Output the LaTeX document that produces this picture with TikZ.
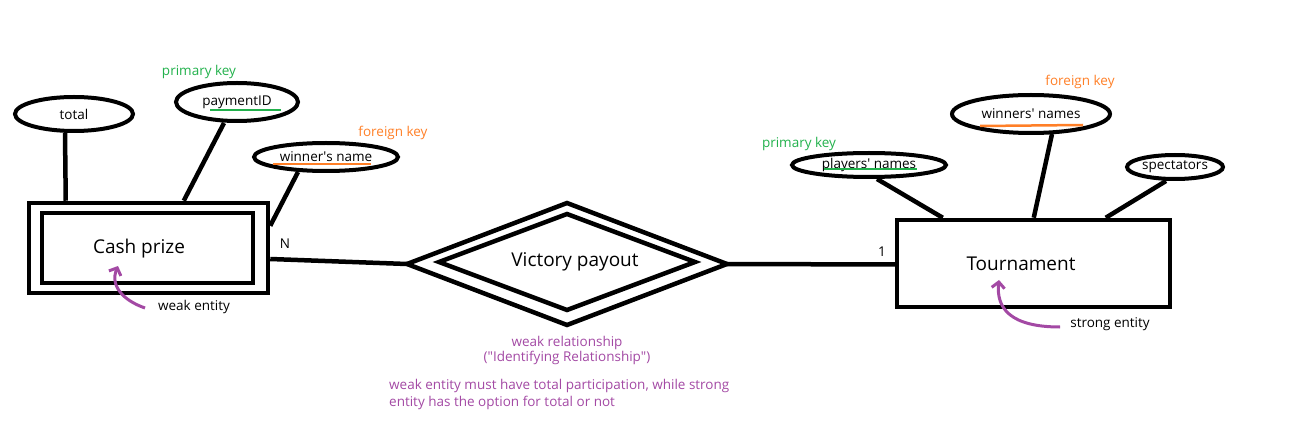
\documentclass[tikz,border=0pt]{standalone}
\usepackage{fontspec}
\setmainfont{Open Sans}
\usetikzlibrary{shapes.geometric,arrows.meta,calc}
\definecolor{pkgreen}{RGB}{34,177,76}
\definecolor{fkorange}{RGB}{255,127,39}
\definecolor{notepurple}{RGB}{163,73,164}
\begin{document}
\begin{tikzpicture}[x=1pt,y=-1pt,
  bigfont/.style={font=\fontsize{19}{22}\selectfont},
  smallfont/.style={font=\fontsize{13.5}{16}\selectfont},
  entbox/.style={draw, line width=4.5pt, inner sep=0pt},
  bigtext/.style={bigfont, inner sep=0pt},
  attr/.style={ellipse, draw, line width=4pt, inner sep=0pt, smallfont},
  conn/.style={line width=4.5pt},
  pkline/.style={pkgreen, line width=2.5pt},
  fkline/.style={fkorange, line width=2.5pt},
  pklabel/.style={text=pkgreen, smallfont, inner sep=0pt},
  fklabel/.style={text=fkorange, smallfont, inner sep=0pt},
  note/.style={text=notepurple, smallfont, inner sep=0pt},
  plain/.style={smallfont, inner sep=0pt},
  pointer/.style={notepurple, line width=3pt, -{Straight Barb[length=6pt,width=13pt]}}
]
\useasboundingbox (0,0) rectangle (1303,430);

% Cash prize (weak entity)
\node[entbox, minimum width=239pt, minimum height=90pt] (cashout) at (148.5,248) {};
\node[entbox, minimum width=211pt, minimum height=70pt] (cash) at (147.5,248) {};
\node[bigtext] (cashtxt) at (139,249) {Cash prize};

% Tournament
\node[entbox, minimum width=273pt, minimum height=87pt] (tour) at (1033.5,263.5) {};
\node[bigtext] (tourtxt) at (1021,264) {Tournament};

% Relationship (double diamond)
\coordinate (dol) at (407,264);
\coordinate (dot) at (567,203);
\coordinate (dor) at (727,264);
\coordinate (dob) at (567,325);
\coordinate (dil) at (439,262);
\coordinate (dit) at (567,214);
\coordinate (dir) at (695,262);
\coordinate (dib) at (567,310);
\draw[conn] (dol) -- (dot) -- (dor) -- (dob) -- cycle;
\draw[conn] (dil) -- (dit) -- (dir) -- (dib) -- cycle;
\node[bigtext] (reltxt) at (575,262) {Victory payout};

% Attributes
\node[attr, minimum width=118pt, minimum height=34pt] (total) at (74,114) {total};
\node[attr, minimum width=122pt, minimum height=38pt] (pid) at (237,102) {paymentID};
\node[attr, minimum width=144pt, minimum height=28pt] (wname) at (326,157) {winner\textquotesingle s name};
\node[attr, minimum width=154pt, minimum height=24pt] (pname) at (869,165) {players\textquotesingle\ names};
\node[attr, minimum width=158pt, minimum height=38pt] (wsnames) at (1031,114) {winners\textquotesingle\ names};
\node[attr, minimum width=96pt, minimum height=24pt] (spect) at (1175,167) {spectators};

% key underlines
\draw[pkline] (210,110) -- (281,110);
\draw[fkline] (273,164) -- (371,164);
\draw[pkline] (824,169) -- (917,169);
\draw[fkline] (980,126) -- (1083,125);

% key labels
\node[pklabel] (pk1) at (199,72) {primary key};
\node[fklabel] (fk1) at (393,133) {foreign key};
\node[pklabel] (pk2) at (799,144) {primary key};
\node[fklabel] (fk2) at (1080,82) {foreign key};

% connectors
\draw[conn] ($(total.south)+(-9,0)$) -- ($(cashout.north west)+(39,0)$);
\draw[conn] ($(pid.south)+(-13,0)$) -- ($(cashout.north west)+(157,0)$);
\draw[conn] ($(wname.south)+(-28,-1)$) -- ($(cashout.north east)+(0,25)$);
\draw[conn] ($(cashout.east)+(0,11)$) -- (dol);
\draw[conn] (dor) -- ($(tour.west)+(0,1)$);
\draw[conn] ($(pname.south)+(8,0)$) -- ($(tour.north west)+(48,0)$);
\draw[conn] ($(wsnames.south)+(21,-1)$) -- ($(tour.north west)+(139,0)$);
\draw[conn] ($(spect.south)+(-9,0)$) -- ($(tour.north west)+(211,0)$);

% cardinalities
\node[plain] (cardN) at (285,244) {N};
\node[plain] (card1) at (882,252) {1};

% notes
\node[plain] (weaklbl) at (194,307) {weak entity};
\node[plain] (stronglbl) at (1110,324) {strong entity};
\coordinate (weakstart) at (145,308);
\coordinate (weaktip) at (118,266);
\coordinate (strongstart) at (1060,327);
\coordinate (strongtip) at (999,280);
\draw[pointer] (weakstart) .. controls (122,300) and (110,285) .. (weaktip);
\draw[pointer] (strongstart) .. controls (1010,327) and (996,308) .. (strongtip);

\node[note, align=center, font=\fontsize{13.5}{15}\selectfont] (weakrel) at (567,350) {weak relationship\\(\textquotedbl Identifying Relationship\textquotedbl)};
\node[note, align=left, anchor=north west, font=\fontsize{13.5}{17}\selectfont] (partnote) at (389,379) {weak entity must have total participation, while strong\\entity has the option for total or not};
\end{tikzpicture}
\end{document}
